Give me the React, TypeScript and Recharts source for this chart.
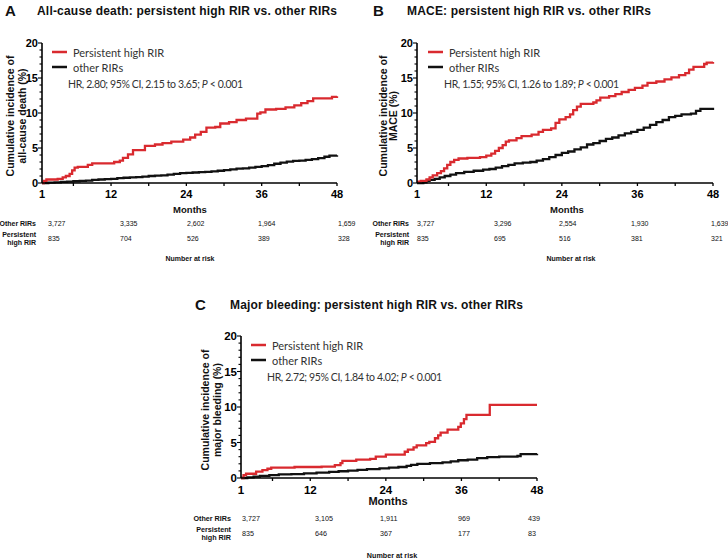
import { LineChart, Line, XAxis, YAxis } from 'recharts'

const RED = '#d92a2f'
const BLACK = '#111111'
const AXIS_FONT = "'Liberation Sans', Arial, sans-serif"
const LEGEND_FONT = "Lato, 'Noto Sans', sans-serif"

const monthTicks = [1, 6, 12, 18, 24, 30, 36, 42, 48]
const monthLabels = [1, 12, 24, 36, 48]
const pctTicks = [0, 1, 2, 3, 4, 5, 6, 7, 8, 9, 10, 11, 12, 13, 14, 15, 16, 17, 18, 19, 20]
const pctLabels = [0, 5, 10, 15, 20]

// [month, cumulative incidence %]
const deathHigh = [
  [1, 0], [1.3, 0.3], [1.7, 0.5], [3.5, 0.6], [4.3, 0.8], [4.8, 1.0], [5.4, 1.3], [5.8, 1.8],
  [6.2, 2.2], [6.7, 2.3], [8.3, 2.6], [9.0, 2.8], [12.5, 3.0], [13.4, 3.2], [13.9, 3.6],
  [14.7, 4.1], [15.5, 4.7], [17.4, 5.3], [19.0, 5.5], [20.2, 5.7], [21.6, 5.9], [23.5, 6.2],
  [24.6, 6.5], [25.4, 6.9], [26.3, 7.3], [27.2, 7.9], [28.6, 8.0], [29.4, 8.5], [30.8, 8.7],
  [32.0, 9.0], [33.5, 9.2], [35.3, 9.9], [35.8, 10.1], [36.6, 10.5], [38.3, 10.6], [39.8, 10.8],
  [41.2, 11.1], [42.3, 11.4], [43.3, 11.7], [44.2, 12.1], [47.2, 12.3], [48, 12.4]
]
const deathOther = [
  [1, 0], [2, 0.05], [3, 0.1], [4, 0.15], [5, 0.2], [6, 0.25], [7, 0.3], [8, 0.35], [9, 0.45],
  [10, 0.5], [11, 0.55], [12, 0.6], [13, 0.7], [14, 0.75], [15, 0.8], [16, 0.85], [17, 0.9],
  [18, 1.0], [19, 1.05], [20, 1.1], [21, 1.2], [22, 1.3], [23, 1.4], [24, 1.45], [25, 1.5],
  [26, 1.55], [27, 1.6], [28, 1.65], [29, 1.75], [30, 1.85], [31, 1.95], [32, 2.05], [33, 2.1],
  [34, 2.2], [35, 2.3], [36, 2.4], [37, 2.55], [38, 2.75], [39, 2.9], [40, 3.05], [41, 3.15],
  [42, 3.2], [43, 3.3], [44, 3.4], [45, 3.55], [46, 3.75], [46.8, 3.9], [48, 3.95]
]
const maceHigh = [
  [1, 0.2], [1.6, 0.3], [2.5, 0.5], [3.0, 0.8], [3.5, 1.1], [4.2, 1.4], [4.8, 1.7], [5.3, 2.1],
  [5.8, 2.6], [6.3, 3.0], [6.9, 3.3], [7.6, 3.5], [9.0, 3.6], [11.0, 3.7], [12.0, 3.9],
  [12.8, 4.2], [13.4, 4.6], [14.0, 5.0], [14.6, 5.4], [15.1, 5.9], [15.6, 6.1], [16.8, 6.4],
  [17.6, 6.7], [19.2, 6.9], [20.3, 7.3], [21.0, 7.6], [22.3, 7.8], [23.0, 8.6], [23.6, 9.1],
  [24.6, 9.4], [25.3, 9.8], [25.8, 10.4], [26.4, 10.9], [27.0, 11.3], [29.0, 11.5], [29.5, 11.8],
  [30.1, 12.2], [31.5, 12.4], [32.5, 12.7], [33.5, 13.0], [34.6, 13.3], [35.6, 13.6], [36.8, 13.9],
  [37.6, 14.3], [39.0, 14.5], [40.3, 14.8], [41.4, 15.1], [42.6, 15.4], [43.6, 15.7], [44.2, 16.2],
  [44.9, 16.6], [46.6, 17.0], [47.0, 17.2], [48, 17.3]
]
const maceOther = [
  [1, 0], [2.0, 0.1], [2.5, 0.3], [3.0, 0.45], [3.8, 0.6], [4.6, 0.8], [5.4, 1.0], [6.3, 1.2],
  [7.2, 1.4], [8.5, 1.6], [10.0, 1.75], [11.5, 1.9], [12.5, 2.0], [13.5, 2.2], [14.5, 2.4],
  [15.5, 2.6], [16.5, 2.8], [17.8, 2.9], [19.0, 3.0], [20.0, 3.2], [21.0, 3.4], [22.0, 3.7],
  [23.0, 4.0], [24.0, 4.3], [25.0, 4.5], [26.0, 4.8], [27.0, 5.1], [28.0, 5.5], [29.0, 5.7],
  [30.0, 6.0], [31.0, 6.3], [32.0, 6.5], [33.0, 6.8], [34.0, 7.1], [35.0, 7.3], [36.0, 7.6],
  [37.0, 7.9], [38.0, 8.3], [39.0, 8.7], [40.0, 9.0], [41.0, 9.4], [42.0, 9.6], [43.0, 9.8],
  [44.5, 9.9], [45.3, 10.3], [46.0, 10.6], [48, 10.75]
]
const bleedHigh = [
  [1, 0], [1.4, 0.4], [1.8, 0.6], [3.4, 0.9], [4.4, 1.1], [5.2, 1.3], [5.8, 1.45], [9.5, 1.55],
  [13.8, 1.6], [15.9, 1.8], [16.8, 2.1], [17.1, 2.4], [19.3, 2.6], [21.5, 2.7], [22.4, 3.0],
  [24.0, 3.3], [27.0, 3.7], [27.5, 4.0], [28.4, 4.3], [28.9, 4.6], [30.4, 4.9], [30.9, 5.1],
  [31.8, 5.6], [32.3, 6.0], [32.7, 6.4], [33.8, 6.8], [35.5, 7.2], [35.9, 7.7], [36.4, 8.3],
  [36.8, 8.9], [40.5, 10.3], [48, 10.3]
]
const bleedOther = [
  [1, 0], [2, 0.1], [3, 0.2], [4, 0.3], [5.5, 0.4], [7, 0.5], [9, 0.55], [11, 0.65], [13, 0.75],
  [15, 0.85], [16.5, 0.95], [18, 1.05], [19.5, 1.15], [21, 1.25], [23, 1.35], [24.5, 1.45],
  [26, 1.55], [27.3, 1.7], [28, 1.85], [29, 2.0], [31, 2.1], [33, 2.2], [34.3, 2.35], [35.5, 2.5],
  [37, 2.6], [38.5, 2.8], [40.1, 2.95], [42, 3.0], [44.9, 3.1], [45.4, 3.35], [48, 3.4]
]

// number at risk at months 1, 12, 24, 36, 48
const deathRiskOther = [3727, 3335, 2602, 1964, 1659]
const deathRiskHigh = [835, 704, 526, 389, 328]
const maceRiskOther = [3727, 3296, 2554, 1930, 1639]
const maceRiskHigh = [835, 695, 516, 381, 321]
const bleedRiskOther = [3727, 3105, 1911, 969, 439]
const bleedRiskHigh = [835, 646, 367, 177, 83]

const toRows = (pts: number[][]) => pts.map(([month, pct]) => ({ month, pct }))
const fmt = (n: number) => n.toLocaleString('en-US')

const XTick = ({ x, y, payload, fontSize }: any) => (
  <g>
    {payload.value !== 1 && (
      <line x1={x} x2={x} y1={y} y2={y + 3} stroke='#000' strokeWidth={1.3} />
    )}
    {monthLabels.includes(payload.value) && (
      <text
        x={x}
        y={y + fontSize + 4}
        textAnchor='middle'
        fontFamily={AXIS_FONT}
        fontWeight='bold'
        fontSize={fontSize}
        fill='#000'
      >
        {payload.value}
      </text>
    )}
  </g>
)

const YTick = ({ x, y, payload, fontSize }: any) => {
  const major = pctLabels.includes(payload.value)
  return (
    <g>
      <line x1={x - (major ? 4 : 2.5)} x2={x} y1={y} y2={y} stroke='#000' strokeWidth={1.1} />
      {major && (
        <text
          x={x - 4}
          y={y}
          dy='0.36em'
          textAnchor='end'
          fontFamily={AXIS_FONT}
          fontWeight='bold'
          fontSize={fontSize}
          fill='#000'
        >
          {payload.value}
        </text>
      )}
    </g>
  )
}

interface PanelProps {
  left: number
  top: number
  width: number
  height: number
  yAxisWidth: number
  xAxisHeight: number
  marginTop: number
  marginRight: number
  tickFont: number
  high: number[][]
  other: number[][]
}

const Panel = (p: PanelProps) => (
  <div style={{ position: 'absolute', left: p.left, top: p.top }}>
    <LineChart
      width={p.width}
      height={p.height}
      margin={{ top: p.marginTop, right: p.marginRight, bottom: 0, left: 0 }}
    >
      <XAxis
        dataKey='month'
        type='number'
        domain={[1, 48]}
        ticks={monthTicks}
        interval={0}
        height={p.xAxisHeight}
        tickSize={0}
        tickMargin={0}
        tickLine={false}
        axisLine={{ stroke: '#000', strokeWidth: 1.6 }}
        tick={<XTick fontSize={p.tickFont} />}
        allowDuplicatedCategory={false}
      />
      <YAxis
        type='number'
        domain={[0, 20]}
        ticks={pctTicks}
        interval={0}
        width={p.yAxisWidth}
        tickSize={0}
        tickMargin={0}
        tickLine={false}
        axisLine={{ stroke: '#000', strokeWidth: 1.6 }}
        tick={<YTick fontSize={p.tickFont} />}
      />
      <Line
        data={toRows(p.other)}
        dataKey='pct'
        type='stepAfter'
        stroke={BLACK}
        strokeWidth={2.3}
        dot={false}
        isAnimationActive={false}
      />
      <Line
        data={toRows(p.high)}
        dataKey='pct'
        type='stepAfter'
        stroke={RED}
        strokeWidth={2.3}
        dot={false}
        isAnimationActive={false}
      />
    </LineChart>
  </div>
)

const Header = ({ letter, lx, tx, y, text, len }: any) => (
  <g fontFamily={AXIS_FONT} fontWeight='bold' fill='#111'>
    <text x={lx} y={y + 1} fontSize={15}>{letter}</text>
    <text x={tx} y={y} fontSize={12} textLength={len} lengthAdjust='spacing'>{text}</text>
  </g>
)

const YTitle = ({ x1, x2, cy, line2 }: any) => (
  <g fontFamily={AXIS_FONT} fontWeight='bold' fontSize={10.5} fill='#111' textAnchor='middle'>
    <text transform={`translate(${x1},${cy}) rotate(-90)`} dominantBaseline='central'>
      Cumulative incidence of
    </text>
    <text transform={`translate(${x2},${cy}) rotate(-90)`} dominantBaseline='central'>
      {line2}
    </text>
  </g>
)

const LegendBox = ({ x, y, hr }: any) => (
  <g fontFamily={LEGEND_FONT} fontSize={11} fill='#333'>
    <line x1={x} x2={x + 15} y1={y} y2={y} stroke={RED} strokeWidth={2.5} />
    <text x={x + 21} y={y} dominantBaseline='central'>Persistent high RIR</text>
    <line x1={x} x2={x + 15} y1={y + 15} y2={y + 15} stroke={BLACK} strokeWidth={2.5} />
    <text x={x + 21} y={y + 15} dominantBaseline='central'>other RIRs</text>
    <text x={x + 16} y={y + 32} dominantBaseline='central' fontSize={10.5} textLength={175}>
      {hr}<tspan fontStyle='italic'>P</tspan> &lt; 0.001
    </text>
  </g>
)

const RiskTable = ({ cols, labelX, y, other, high, monthsX, monthsY, riskX, riskY, size, monthsSize }: any) => (
  <g fontFamily={AXIS_FONT} fill='#111'>
    <text x={monthsX} y={monthsY} textAnchor='middle' dominantBaseline='central' fontWeight='bold' fontSize={monthsSize}>
      Months
    </text>
    <text x={labelX} y={y} textAnchor='end' dominantBaseline='central' fontWeight='bold' fontSize={size}>
      Other RIRs
    </text>
    <text x={labelX} y={y + 11} textAnchor='end' dominantBaseline='central' fontWeight='bold' fontSize={size}>
      Persistent
    </text>
    <text x={labelX} y={y + 19} textAnchor='end' dominantBaseline='central' fontWeight='bold' fontSize={size}>
      high  RIR
    </text>
    {other.map((v: number, i: number) => (
      <text key={'o' + i} x={cols[i]} y={y} dominantBaseline='central' fontSize={size}>{fmt(v)}</text>
    ))}
    {high.map((v: number, i: number) => (
      <text key={'h' + i} x={cols[i]} y={y + 15} dominantBaseline='central' fontSize={size}>{fmt(v)}</text>
    ))}
    <text x={riskX} y={riskY} textAnchor='middle' dominantBaseline='central' fontWeight='bold' fontSize={size}>
      Number at risk
    </text>
  </g>
)

export default function App() {
  return (
    <div style={{ position: 'absolute', left: 0, top: 0, width: 728, height: 558, background: '#fff', overflow: 'hidden' }}>
      <Panel left={0} top={0} width={364} height={200} yAxisWidth={42} xAxisHeight={17}
        marginTop={43} marginRight={27} tickFont={11} high={deathHigh} other={deathOther} />
      <Panel left={364} top={0} width={364} height={200} yAxisWidth={53} xAxisHeight={17}
        marginTop={43} marginRight={15} tickFont={11} high={maceHigh} other={maceOther} />
      <Panel left={180} top={290} width={380} height={210} yAxisWidth={61} xAxisHeight={22}
        marginTop={46} marginRight={23} tickFont={11.5} high={bleedHigh} other={bleedOther} />
      <svg width={728} height={558} style={{ position: 'absolute', left: 0, top: 0, pointerEvents: 'none' }}>
        <Header letter='A' lx={5} tx={37} y={15} len={300} text='All-cause death: persistent high RIR vs. other RIRs' />
        <Header letter='B' lx={373} tx={407} y={15} len={244} text='MACE: persistent high RIR vs. other RIRs' />
        <Header letter='C' lx={195} tx={230} y={309} len={293} text='Major bleeding: persistent high RIR vs. other RIRs' />

        <YTitle x1={10} x2={21.5} cy={116} line2='all-cause death (%)' />
        <YTitle x1={382.5} x2={393} cy={116} line2='MACE (%)' />
        <YTitle x1={205} x2={216.5} cy={410} line2='major bleeding (%)' />

        <LegendBox x={52} y={52} hr='HR, 2.80; 95% CI, 2.15 to 3.65; ' />
        <LegendBox x={428} y={52} hr='HR, 1.55; 95% CI, 1.26 to 1.89; ' />
        <LegendBox x={251} y={345} hr='HR, 2.72; 95% CI, 1.84 to 4.02; ' />

        <RiskTable cols={[48, 120, 187, 258, 338]} labelX={36} y={223} other={deathRiskOther} high={deathRiskHigh}
          monthsX={190} monthsY={209} riskX={190} riskY={258} size={7} monthsSize={9.5} />
        <RiskTable cols={[417, 494, 559, 631, 711]} labelX={409} y={223} other={maceRiskOther} high={maceRiskHigh}
          monthsX={567} monthsY={209} riskX={571} riskY={258} size={7} monthsSize={9.5} />
        <RiskTable cols={[242, 315, 380, 458, 528]} labelX={231} y={518} other={bleedRiskOther} high={bleedRiskHigh}
          monthsX={388} monthsY={501} riskX={392} riskY={555} size={7.2} monthsSize={11} />
      </svg>
    </div>
  )
}
